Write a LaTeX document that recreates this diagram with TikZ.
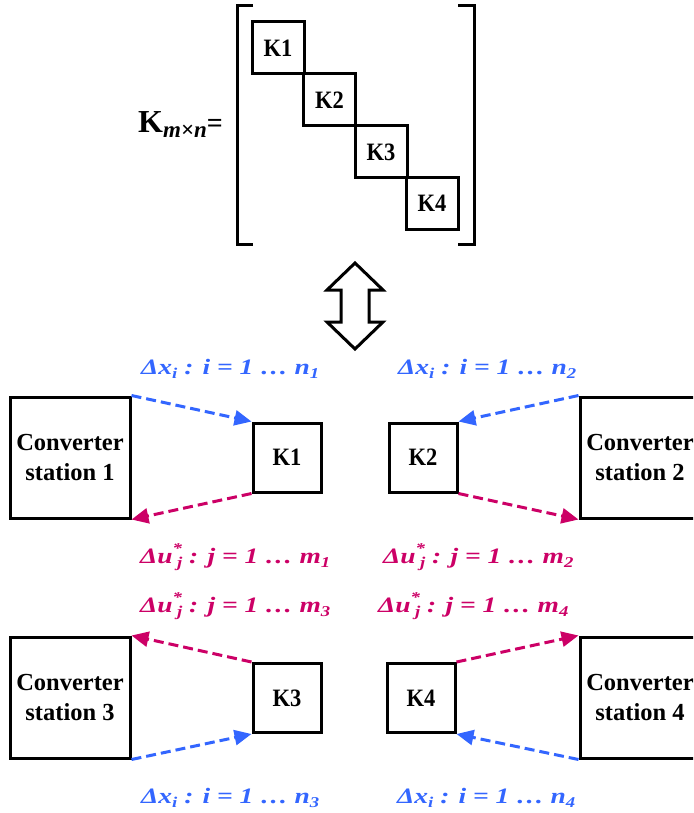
\documentclass[tikz,border=0pt]{standalone}
\usepackage{fontspec}
\setmainfont{Liberation Serif}
\usetikzlibrary{arrows.meta}

\definecolor{flowblue}{RGB}{51,102,255}
\definecolor{flowmag}{RGB}{204,0,102}

% stretched bold-italic labels for the exchanged quantities
\newcommand{\lbl}[1]{\scalebox{1.25}[1]{\fontsize{22}{22}\selectfont\bfseries\itshape #1}}
\newcommand{\lsub}[1]{\raisebox{-0.22em}{\fontsize{15}{15}\selectfont #1}}
\newcommand{\dx}[1]{\lbl{Δx\lsub{i} : i = 1 … n\lsub{#1}}}
\newcommand{\du}[1]{\lbl{Δu\rlap{\raisebox{0.42em}{\fontsize{15}{15}\selectfont *}}\hspace{0.16em}\lsub{j} : j = 1 … m\lsub{#1}}}
\newcommand{\kt}[1]{\scalebox{0.9}[1]{#1}}

\tikzset{
  mblock/.style={draw, line width=3pt, minimum width=52pt, minimum height=52pt,
    inner sep=0pt, font=\fontsize{25}{25}\selectfont\bfseries},
  kbox/.style={draw, line width=3pt, minimum width=68pt, minimum height=69pt,
    inner sep=0pt, font=\fontsize{25}{25}\selectfont\bfseries},
  station/.style={draw, line width=3pt, minimum width=120pt, minimum height=121pt,
    inner sep=0pt, align=center, font=\fontsize{24.5}{30}\selectfont\bfseries},
  flow/.style={line width=3pt, dash pattern=on 10pt off 5pt,
    -{Triangle[length=17pt,width=15pt]}},
  xflow/.style={flow, draw=flowblue},
  uflow/.style={flow, draw=flowmag},
  xlabel/.style={anchor=base west, inner sep=0pt, text=flowblue},
  ulabel/.style={anchor=base west, inner sep=0pt, text=flowmag},
}

\begin{document}
\begin{tikzpicture}[x=1pt, y=-1pt]
\useasboundingbox (0,0) rectangle (693,813);
\clip (0,0) rectangle (693,813);

% ---- block-diagonal gain matrix ----
\node[anchor=base west, inner sep=0pt] (kname) at (138,133)
  {{\fontsize{32}{32}\selectfont\bfseries K}\raisebox{-5pt}{\fontsize{23}{23}\selectfont\bfseries\itshape m×n}{\fontsize{28}{28}\selectfont\bfseries =}};
\draw[line width=3pt] (253,6) -- (237,6) -- (237,244) -- (253,244);
\draw[line width=3pt] (458,6) -- (474,6) -- (474,244) -- (458,244);
\node[mblock] (mK1) at (278,48)    {\kt{K1}};
\node[mblock] (mK2) at (329.5,100) {\kt{K2}};
\node[mblock] (mK3) at (381,152)   {\kt{K3}};
\node[mblock] (mK4) at (432,203.5) {\kt{K4}};

% ---- equivalence arrow ----
\draw[line width=3pt, line join=miter]
  (355,263) -- (383,290) -- (369,290) -- (369,322) -- (383,322) -- (355,349)
  -- (327,322) -- (341,322) -- (341,290) -- (327,290) -- cycle;

% ---- stations and local controllers ----
\node[station] (cs1) at (70,457.5)  {Converter\\station 1};
\node[station] (cs2) at (640,457.5) {Converter\\station 2};
\node[station] (cs3) at (70,697.5)  {Converter\\station 3};
\node[station] (cs4) at (640,697.5) {Converter\\station 4};

\node[kbox] (k1) at (287,457.5) {\kt{K1}};
\node[kbox] (k2) at (423,457.5) {\kt{K2}};
\node[kbox] (k3) at (287,698)   {\kt{K3}};
\node[kbox] (k4) at (421,698)   {\kt{K4}};

% measurements in, set-point corrections out
\draw[xflow] (cs1.north east) -- (k1.north west);
\draw[uflow] (k1.south west) -- (cs1.south east);
\draw[xflow] (cs2.north west) -- (k2.north east);
\draw[uflow] (k2.south east) -- (cs2.south west);
\draw[uflow] (k3.north west) -- (cs3.north east);
\draw[xflow] (cs3.south east) -- (k3.south west);
\draw[uflow] (k4.north east) -- (cs4.north west);
\draw[xflow] (cs4.south west) -- (k4.south east);

% ---- labels ----
\node[xlabel] (ln1) at (141,374) {\dx{1}};
\node[xlabel] (ln2) at (398,374) {\dx{2}};
\node[ulabel] (lm1) at (140,563) {\du{1}};
\node[ulabel] (lm2) at (383,563) {\du{2}};
\node[ulabel] (lm3) at (140,612) {\du{3}};
\node[ulabel] (lm4) at (378,612) {\du{4}};
\node[xlabel] (ln3) at (141,803) {\dx{3}};
\node[xlabel] (ln4) at (397,803) {\dx{4}};
\end{tikzpicture}
\end{document}
